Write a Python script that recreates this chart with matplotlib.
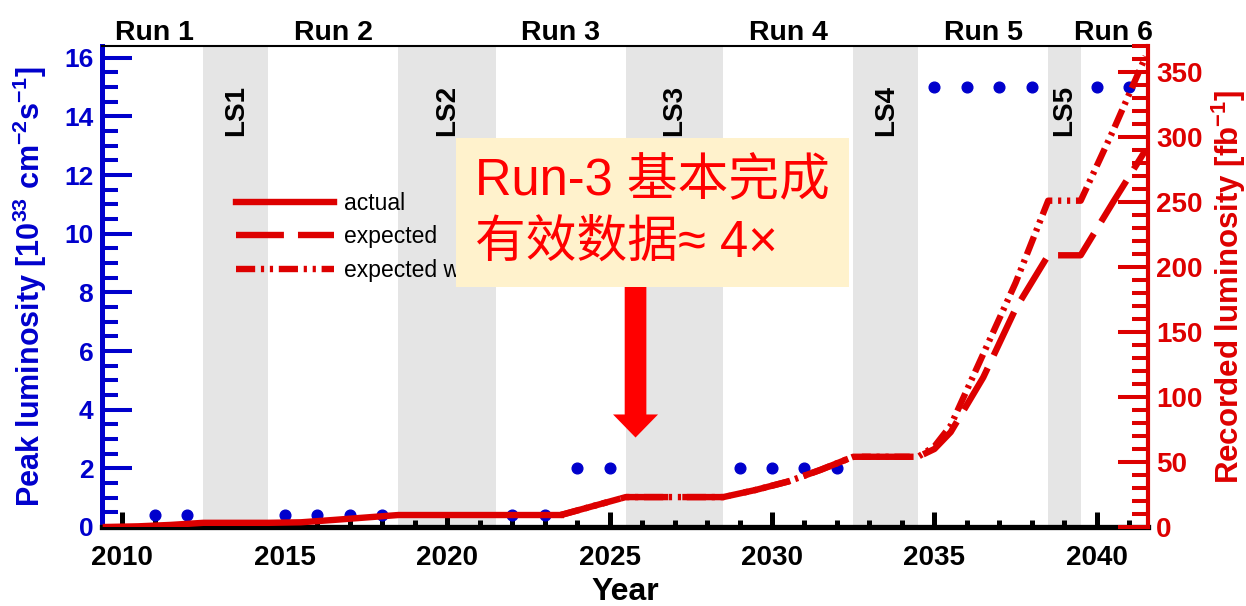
import matplotlib
matplotlib.use('Agg')
import matplotlib.pyplot as plt
from matplotlib.ticker import MultipleLocator

plt.rcParams['font.family'] = ['Liberation Sans', 'DejaVu Sans']
plt.rcParams['font.weight'] = 'bold'
plt.rcParams['axes.labelweight'] = 'bold'
plt.rcParams['mathtext.default'] = 'regular'

BLUE = '#0000cc'
RED = '#dd0000'

# peak luminosity (left axis, 1e33 cm^-2 s^-1)
peak_years = [2011, 2012, 2015, 2016, 2017, 2018, 2022, 2023, 2024, 2025,
              2029, 2030, 2031, 2032, 2035, 2036, 2037, 2038, 2040, 2041]
peak_lumi = [0.4, 0.4, 0.4, 0.4, 0.4, 0.4, 0.4, 0.4, 2, 2,
             2, 2, 2, 2, 15, 15, 15, 15, 15, 15]

# recorded luminosity (right axis, fb^-1)
actual_years = [2009.5, 2010.5, 2011.5, 2012.5, 2014.5, 2015.5, 2016.5,
                2017.5, 2018.5, 2021.5, 2023.5]
actual_lumi = [0.0, 0.5, 1.6, 3.2, 3.2, 3.6, 5.4, 7.3, 9.2, 9.2, 9.2]

expected_years = [2023.5, 2025.5, 2028.5, 2029.5, 2030.5, 2031.5, 2032.5,
                  2034.5, 2035.0, 2035.5, 2036.5, 2037.5, 2038.5, 2039.5,
                  2040.5, 2041.5]
expected_lumi = [9.2, 23, 23, 28.5, 35, 44, 54, 54, 60, 73, 115, 168, 209,
                 209, 250, 290]
upgrade_lumi = [9.2, 23, 23, 28.5, 35, 44, 54, 54, 62, 78, 133, 188, 251,
                251, 305, 362]

run_names = ['Run 1', 'Run 2', 'Run 3', 'Run 4', 'Run 5', 'Run 6']
run_centers = [2011, 2016.5, 2023.5, 2030.5, 2036.5, 2040.5]

ls_names = ['LS1', 'LS2', 'LS3', 'LS4', 'LS5']
ls_starts = [2012.5, 2018.5, 2025.5, 2032.5, 2038.5]
ls_ends = [2014.5, 2021.5, 2028.5, 2034.5, 2039.5]

fig = plt.figure(figsize=(12.46, 6.06), dpi=100)
ax1 = fig.add_axes([0.0816, 0.1304, 0.8397, 0.7937])
ax2 = ax1.twinx()

for name, x0, x1 in zip(ls_names, ls_starts, ls_ends):
    ax1.axvspan(x0, x1, color='#e5e5e5', lw=0, zorder=0)
    ax1.text((x0 + x1) / 2, 14.2, name, rotation=90, ha='center', va='center',
             fontsize=20, color='black')

for name, xc in zip(run_names, run_centers):
    ax1.text(xc, 1.012, name, transform=ax1.get_xaxis_transform(),
             ha='center', va='baseline', fontsize=20.5, color='black')

ax1.plot(peak_years, peak_lumi, 'o', color=BLUE, ms=7.7, zorder=3)

lw = 4.6
l1, = ax2.plot(actual_years, actual_lumi, color=RED, lw=lw, label='actual')
l2, = ax2.plot(expected_years, expected_lumi, color=RED, lw=lw,
               ls=(0, (7.5, 2.2)), label='expected')
l3, = ax2.plot(expected_years, upgrade_lumi, color=RED, lw=lw,
               ls=(0, (3.0, 0.9, 0.5, 0.9, 0.5, 0.9)),
               label='expected w/ Upgrade II')

ax1.set_xlim(2009.37, 2041.57)
ax1.set_ylim(0, 16.4)
ax2.set_ylim(0, 370)

ax1.xaxis.set_major_locator(MultipleLocator(5))
ax1.xaxis.set_minor_locator(MultipleLocator(1))
ax1.yaxis.set_major_locator(MultipleLocator(2))
ax1.yaxis.set_minor_locator(MultipleLocator(0.5))
ax2.yaxis.set_major_locator(MultipleLocator(50))
ax2.yaxis.set_minor_locator(MultipleLocator(10))

ax1.tick_params(axis='x', which='major', direction='in', length=10.8,
                width=3.6, color='black', labelsize=20, pad=13, top=False)
ax1.tick_params(axis='x', which='minor', direction='in', length=5,
                width=3.6, color='black', top=False)
ax1.tick_params(axis='y', which='major', direction='in', length=21.6,
                width=2.9, colors=BLUE, labelsize=19, pad=6)
ax1.tick_params(axis='y', which='minor', direction='in', length=11.5,
                width=2.9, color=BLUE)
ax2.tick_params(axis='y', which='major', direction='in', length=21.6,
                width=2.9, colors=RED, labelsize=20, pad=6)
ax2.tick_params(axis='y', which='minor', direction='in', length=11.5,
                width=2.9, color=RED)

ax1.spines['left'].set_color(BLUE)
ax1.spines['left'].set_linewidth(3.6)
ax1.spines['bottom'].set_linewidth(3.8)
ax1.spines['top'].set_linewidth(1.5)
ax1.spines['right'].set_linewidth(1.5)
for side in ['left', 'top', 'bottom']:
    ax2.spines[side].set_visible(False)
ax2.spines['right'].set_color(RED)
ax2.spines['right'].set_linewidth(3.0)

ax1.set_xlabel('Year', fontsize=23, labelpad=4)
ax1.set_ylabel(r'Peak luminosity [10$^{33}$ cm$^{-2}$s$^{-1}$]',
               fontsize=22, color=BLUE, labelpad=11)
ax2.set_ylabel(r'Recorded luminosity [fb$^{-1}$]', fontsize=22.5, color=RED,
               labelpad=5)

ax2.legend(handles=[l1, l2, l3], loc='upper left',
           bbox_to_anchor=(236 / 1246, 1 - 192 / 606),
           bbox_transform=fig.transFigure, frameon=False,
           prop={'size': 16.5, 'weight': 'normal'}, handlelength=4.26,
           handletextpad=0.45, labelspacing=0.45, borderpad=0,
           borderaxespad=0)

ax1.annotate('', xy=(2025.8, 3.05), xytext=(2025.8, 8.45),
             arrowprops=dict(facecolor='#ff0000', edgecolor='none',
                             width=15.6, headwidth=32.4, headlength=16.6,
                             shrink=0),
             annotation_clip=False, zorder=4)

fig.text(475 / 1246, 1 - 157 / 606, 'Run-3 基本完成\n有效数据≈ 4×',
         family=['Liberation Sans', 'Noto Sans CJK SC'], weight='normal',
         fontsize=36.5, color='#ff0000', ha='left', va='top',
         linespacing=1.33,
         bbox=dict(boxstyle='square,pad=0.38', fc='#fff2cc', ec='none'),
         zorder=10)

fig.savefig('out.png', dpi=100)
